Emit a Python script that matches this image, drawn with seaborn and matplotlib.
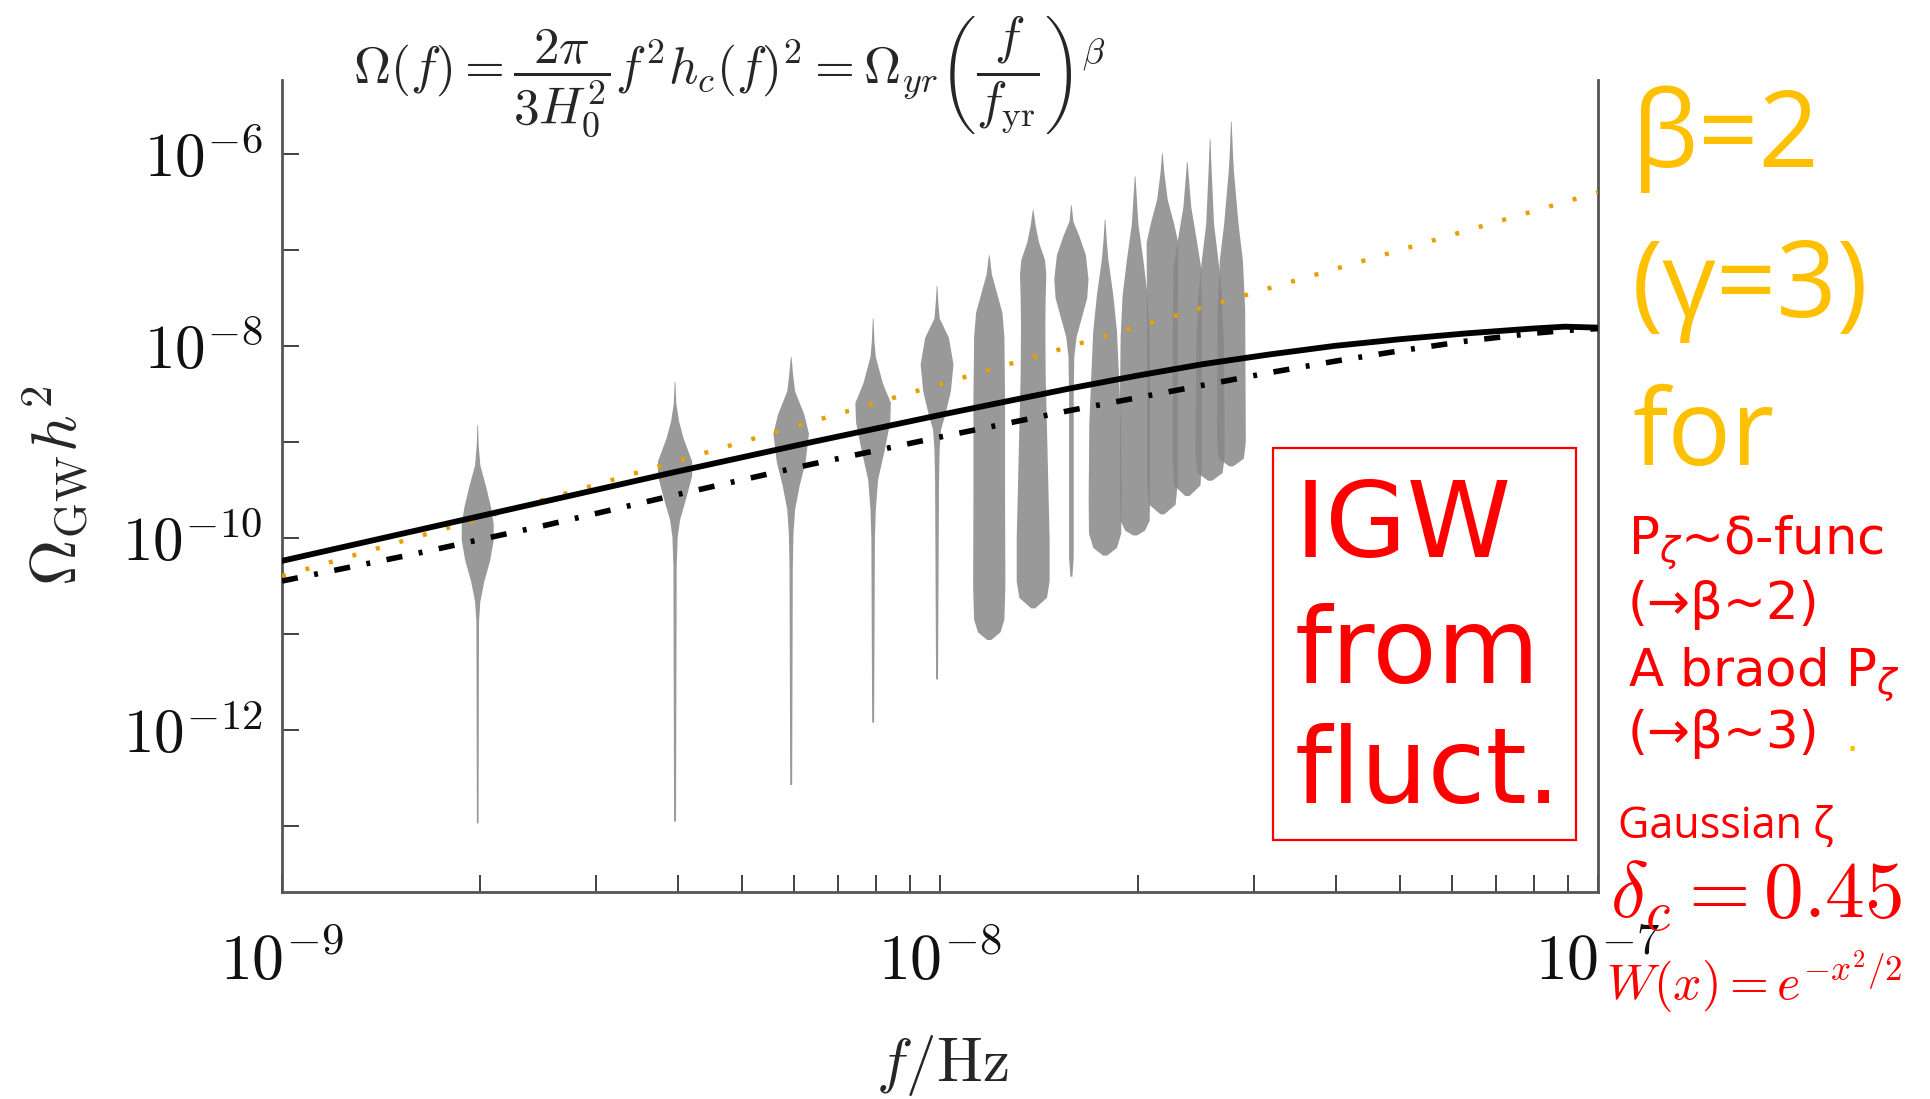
import numpy as np
import matplotlib
matplotlib.use("Agg")
import matplotlib.pyplot as plt
from matplotlib.ticker import FixedLocator, FuncFormatter, NullFormatter
from matplotlib.patches import Rectangle
import seaborn as sns

# ---------------------------------------------------------------
# Data
# ---------------------------------------------------------------
# Frequency bins of the pulsar-timing free spectrum (Hz)
bin_freqs = [1.98e-9, 3.95e-9, 5.93e-9, 7.90e-9, 9.88e-9, 1.186e-8, 1.383e-8,
             1.581e-8, 1.779e-8, 1.976e-8, 2.174e-8, 2.372e-8, 2.569e-8, 2.767e-8]

# Posterior violin outlines per bin: log10(Omega h^2) levels and the
# half-width of the violin at each level (in milli-decades of frequency)
violin_logomega = [
    [-8.82, -9.03, -9.24, -9.46, -9.67, -9.85, -10.02, -10.23, -10.45, -10.66, -10.87, -12.97],
    [-8.37, -8.60, -8.78, -8.96, -9.20, -9.35, -9.56, -9.81, -9.99, -10.30, -12.95],
    [-8.11, -8.30, -8.47, -8.71, -8.91, -9.20, -9.45, -9.70, -9.95, -10.30, -12.57],
    [-7.71, -7.95, -8.11, -8.39, -8.59, -8.79, -9.07, -9.39, -9.71, -10.00, -11.92],
    [-7.37, -7.55, -7.71, -7.91, -8.19, -8.47, -8.71, -8.87, -9.07, -9.40, -11.47],
    [-7.05, -7.25, -7.45, -7.65, -7.90, -8.50, -9.50, -10.50, -10.85, -10.98, -11.06],
    [-6.58, -6.75, -6.92, -7.10, -7.25, -7.50, -7.80, -8.30, -9.00, -10.00, -10.45, -10.62, -10.73],
    [-6.53, -6.70, -6.85, -7.05, -7.30, -7.50, -7.70, -7.90, -8.10, -8.50, -10.20, -10.40],
    [-6.68, -6.90, -7.10, -7.47, -7.84, -8.30, -8.80, -9.60, -9.95, -10.10, -10.18],
    [-6.23, -6.45, -6.73, -7.10, -7.47, -7.90, -8.50, -9.50, -9.82, -9.92, -9.97],
    [-5.99, -6.20, -6.47, -6.73, -6.92, -7.50, -8.50, -9.45, -9.65, -9.75],
    [-6.08, -6.30, -6.55, -6.92, -7.18, -7.80, -9.20, -9.45, -9.56],
    [-5.84, -6.20, -6.73, -7.10, -7.47, -8.00, -9.15, -9.32, -9.40],
    [-5.66, -6.00, -6.18, -6.73, -7.10, -7.60, -9.00, -9.17, -9.25],
]
violin_halfwidth = [
    [0.5, 1.5, 4.0, 12.7, 20.0, 24.3, 24.3, 19.0, 10.0, 4.0, 2.0, 1.3],
    [0.5, 2.0, 6.0, 13.0, 26.0, 26.0, 18.0, 7.6, 4.0, 2.5, 1.5],
    [0.5, 3.0, 6.0, 20.0, 27.0, 22.0, 13.0, 6.0, 3.5, 2.5, 1.5],
    [0.5, 2.0, 4.0, 15.0, 27.0, 26.0, 18.0, 7.5, 4.0, 2.7, 1.5],
    [0.5, 2.0, 4.0, 18.0, 25.0, 21.0, 12.7, 6.0, 4.0, 3.0, 1.5],
    [0.5, 4.0, 12.0, 20.0, 23.0, 24.0, 24.0, 24.5, 23.0, 17.0, 3.0],
    [0.5, 4.0, 9.0, 18.0, 20.0, 19.0, 18.5, 19.0, 21.5, 25.0, 25.0, 21.0, 3.0],
    [0.5, 3.0, 12.0, 22.0, 26.0, 24.0, 16.0, 8.0, 4.5, 3.5, 3.5, 1.5],
    [0.5, 2.5, 5.0, 12.5, 18.0, 21.0, 24.0, 25.0, 24.5, 18.0, 3.0],
    [0.5, 2.5, 5.0, 12.5, 19.0, 22.0, 23.0, 23.0, 22.0, 15.0, 3.0],
    [0.5, 3.0, 8.0, 18.0, 24.0, 23.5, 23.0, 23.0, 20.0, 3.0],
    [0.5, 3.0, 6.0, 15.0, 21.0, 22.0, 22.0, 20.0, 3.0],
    [0.5, 2.5, 6.0, 12.5, 18.0, 21.0, 22.0, 19.0, 3.0],
    [0.5, 2.5, 4.0, 11.0, 17.5, 21.0, 22.0, 19.0, 3.0],
]

# Model spectra: log10 f [Hz] and log10 Omega_GW h^2
model_logf = [-9.0, -8.8, -8.6, -8.4, -8.2, -8.0, -7.9, -7.8, -7.7, -7.6, -7.5,
              -7.4, -7.3, -7.2, -7.1, -7.05, -7.0]
model_solid = [-10.24, -9.93, -9.62, -9.31, -9.01, -8.72, -8.58, -8.44, -8.31,
               -8.19, -8.09, -8.00, -7.93, -7.87, -7.82, -7.80, -7.81]
model_dashdot = [-10.45, -10.17, -9.87, -9.55, -9.24, -8.95, -8.81, -8.67, -8.54,
                 -8.41, -8.28, -8.16, -8.05, -7.95, -7.87, -7.84, -7.82]
powerlaw_logf = [-9.0, -8.0, -7.0]
powerlaw_logomega = [-10.40, -8.40, -6.40]

# ---------------------------------------------------------------
# Style
# ---------------------------------------------------------------
sns.set_style("white")
plt.rcParams["font.family"] = ["DejaVu Sans"]
plt.rcParams["mathtext.fontset"] = "cm"

W, H = 1930, 1099
fig = plt.figure(figsize=(W / 100, H / 100), dpi=100)
fig.patch.set_facecolor("white")


def fx(px):
    return px / W


def fy(py):
    return 1 - py / H


ax = fig.add_axes([fx(282), fy(892), fx(1598) - fx(282), fy(80) - fy(892)])
ax.set_xscale("log")
ax.set_yscale("log")
ax.set_xlim(1e-9, 1e-7)
ax.set_ylim(10 ** -13.69, 10 ** -5.23)

# Violins of the free-spectrum posterior
for f, lo, hw in zip(bin_freqs, violin_logomega, violin_halfwidth):
    y = 10 ** np.asarray(lo)
    w = np.asarray(hw) / 1000.0
    ax.fill_betweenx(y, f * 10 ** (-w), f * 10 ** w, color="#878787",
                     alpha=0.85, lw=0, zorder=2)

# Model curves
sns.lineplot(x=10 ** np.asarray(powerlaw_logf), y=10 ** np.asarray(powerlaw_logomega),
             ax=ax, color="#E69F00", lw=3.2, linestyle=(0, (0.9, 4.6)),
             dash_capstyle="butt", zorder=3)
sns.lineplot(x=10 ** np.asarray(model_logf), y=10 ** np.asarray(model_dashdot),
             ax=ax, color="black", lw=4.0, linestyle=(0, (2.9, 3.0, 0.7, 3.0)),
             zorder=4)
sns.lineplot(x=10 ** np.asarray(model_logf), y=10 ** np.asarray(model_solid),
             ax=ax, color="black", lw=4.2, zorder=5)

# Axes, ticks, labels
ax.xaxis.set_major_locator(FixedLocator([1e-9, 1e-8, 1e-7]))
ax.xaxis.set_minor_locator(FixedLocator([k * 10.0 ** e for e in (-9, -8) for k in range(2, 10)]))
ax.xaxis.set_major_formatter(FuncFormatter(lambda v, p: rf"$10^{{{int(round(np.log10(v)))}}}$"))
ax.xaxis.set_minor_formatter(NullFormatter())
ax.yaxis.set_major_locator(FixedLocator([10.0 ** e for e in range(-13, -5)]))
ax.yaxis.set_minor_locator(FixedLocator([]))


def ylabel_fmt(v, p):
    e = int(round(np.log10(v)))
    return rf"$10^{{{e}}}$" if e % 2 == 0 else ""


ax.yaxis.set_major_formatter(FuncFormatter(ylabel_fmt))
ax.tick_params(which="both", direction="in", length=12, width=1.3, color="#333333",
               bottom=True, left=True, top=False, right=False)
ax.tick_params(axis="x", which="both", labelsize=46, pad=28, labelcolor="#111111")
ax.tick_params(axis="y", which="both", labelsize=44, pad=14, labelcolor="#111111")
for side in ("left", "bottom", "right"):
    ax.spines[side].set_color("#555555")
    ax.spines[side].set_linewidth(2.0)
ax.spines["top"].set_visible(False)
ax.set_xlabel("")
ax.set_ylabel("")

fig.text(fx(55), fy(486), r"$\Omega_{\rm GW}h^2$", rotation=90, fontsize=46,
         ha="center", va="center")
fig.text(fx(942), fy(1066), r"$f/{\rm Hz}$", fontsize=44, ha="center", va="center")

# Formula above the panel
fig.text(fx(729), fy(76),
         r"$\Omega(f) = \dfrac{2\pi}{3H_0^2}f^2h_c(f)^2 = \Omega_{yr}\left(\dfrac{f}{f_{\rm yr}}\right)^{\beta}$",
         fontsize=37, ha="center", va="center")

# Spectral index annotation
orange = "#FFC000"
calibri_like = ["Open Sans", "DejaVu Sans"]
for txt, base in (("β=2", 167), ("(γ=3)", 317), ("for", 465)):
    fig.text(fx(1632), fy(base), txt, fontsize=76, color=orange,
             family=calibri_like, ha="left", va="baseline")

red = "#FF0000"
for txt, base in ((r"$\mathrm{P}_\zeta$~δ-func", 554), ("(→β~2)", 619),
                  (r"A braod $\mathrm{P}_\zeta$", 686), ("(→β~3)", 748)):
    fig.text(fx(1628), fy(base), txt, fontsize=37, color=red, ha="left",
             va="baseline", math_fontfamily="dejavusans")
fig.text(fx(1846), fy(751), ".", fontsize=30, color=orange, ha="left", va="baseline")
fig.text(fx(1618), fy(837), "Gaussian ζ", fontsize=31, color=red,
         family=calibri_like, ha="left", va="baseline")
fig.text(fx(1610), fy(918), r"$\delta_c = 0.45$", fontsize=57, color=red,
         ha="left", va="baseline")
fig.text(fx(1606), fy(1000), r"$W(x) = e^{-x^2/2}$", fontsize=36, color=red,
         ha="left", va="baseline")

# Boxed label
fig.patches.append(Rectangle((fx(1273), fy(840)), fx(1576) - fx(1273), fy(448) - fy(840),
                             transform=fig.transFigure, fill=False, edgecolor=red, lw=1.6))
for txt, base in (("IGW", 557), ("from", 683), ("fluct.", 803)):
    fig.text(fx(1295), fy(base), txt, fontsize=76, color=red, ha="left", va="baseline")

fig.savefig("out.png", dpi=100, facecolor="white")
